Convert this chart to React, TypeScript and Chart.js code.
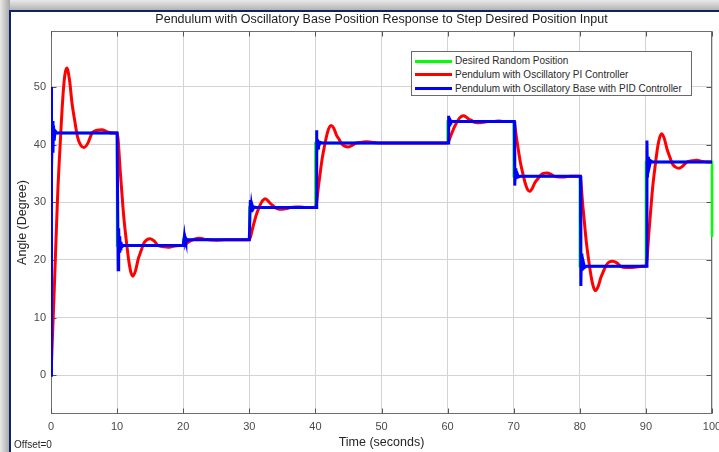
import React, { useEffect, useRef } from "react";
import { Chart, registerables } from "chart.js";

Chart.register(...registerables);

// ---------- text ----------
const chartTitle =
  "Pendulum with Oscillatory Base Position Response to Step Desired Position Input";
const xAxisTitle = "Time (seconds)";
const yAxisTitle = "Angle (Degree)";
const offsetNote = "Offset=0";
const seriesNames = [
  "Desired Random Position",
  "Pendulum with Oscillatory PI Controller",
  "Pendulum with Oscillatory Base with PID Controller",
];
const seriesColors = ["#00ff00", "#ff0000", "#0000ff"];

// ---------- axes ----------
const xTicks = [0, 10, 20, 30, 40, 50, 60, 70, 80, 90, 100];
const yTicks = [0, 10, 20, 30, 40, 50];
const xRange = [0, 100];
const yRange = [-6.7, 59.7];

// ---------- desired (step) ----------
const desiredTimes = [0, 10, 20, 30, 40, 60, 70, 80, 90, 100, 100];
const desiredAngles = [42, 22.5, 23.5, 29.1, 40.3, 44.0, 34.5, 18.9, 37.0, 37.0, 24.0];

// ---------- PI controller response ----------
const piTimes = [
  0, 0.5, 1, 1.4, 1.8, 2.1, 2.4, 2.8, 3.2, 3.6, 4, 4.5, 5, 5.6, 6.2, 7, 7.7, 8.5, 9.5,
  10, 10.5, 11, 11.4, 11.8, 12.1, 12.4, 12.8, 13.2, 13.6, 14, 14.5, 15, 15.6, 16.2, 17, 17.7, 18.5, 19.5,
  20, 20.5, 21, 21.4, 21.8, 22.1, 22.4, 22.8, 23.2, 23.6, 24, 24.5, 25, 25.6, 26.2, 27, 27.7, 28.5, 29.5,
  30, 30.5, 31, 31.4, 31.8, 32.1, 32.4, 32.8, 33.2, 33.6, 34, 34.5, 35, 35.6, 36.2, 37, 37.7, 38.5, 39.5,
  40, 40.5, 41, 41.4, 41.8, 42.1, 42.4, 42.8, 43.2, 43.6, 44, 44.5, 45, 45.6, 46.2, 47, 47.7, 48.5, 49.5, 55,
  60, 60.5, 61, 61.4, 61.8, 62.1, 62.4, 62.8, 63.2, 63.6, 64, 64.5, 65, 65.6, 66.2, 67, 67.7, 68.5, 69.5,
  70, 70.5, 71, 71.4, 71.8, 72.1, 72.4, 72.8, 73.2, 73.6, 74, 74.5, 75, 75.6, 76.2, 77, 77.7, 78.5, 79.5,
  80, 80.5, 81, 81.4, 81.8, 82.1, 82.4, 82.8, 83.2, 83.6, 84, 84.5, 85, 85.6, 86.2, 87, 87.7, 88.5, 89.5,
  90, 90.5, 91, 91.4, 91.8, 92.1, 92.4, 92.8, 93.2, 93.6, 94, 94.5, 95, 95.6, 96.2, 97, 97.7, 98.5, 99.5, 100,
];
const piAngles = [
  0, 15.1, 31.1, 40.3, 48.3, 52.1, 53.3, 51.2, 47.0, 44.1, 41.4, 39.9, 39.5, 40.3, 42.0, 42.5, 42.6, 42.2, 42.0,
  42.0, 35.0, 27.6, 23.3, 19.6, 17.8, 17.2, 18.2, 20.2, 21.5, 22.8, 23.5, 23.7, 23.3, 22.5, 22.3, 22.2, 22.4, 22.5,
  22.5, 22.86, 23.24, 23.46, 23.65, 23.74, 23.77, 23.72, 23.62, 23.55, 23.49, 23.45, 23.44, 23.46, 23.5, 23.51, 23.52, 23.51, 23.5,
  23.5, 25.5, 27.6, 28.9, 29.9, 30.4, 30.6, 30.3, 29.8, 29.4, 29.0, 28.8, 28.8, 28.9, 29.1, 29.2, 29.2, 29.1, 29.1,
  29.1, 33.1, 37.4, 39.9, 42.0, 43.0, 43.3, 42.8, 41.6, 40.9, 40.1, 39.7, 39.6, 39.9, 40.3, 40.4, 40.5, 40.4, 40.3, 40.3,
  40.3, 41.6, 43.0, 43.9, 44.6, 44.9, 45.0, 44.8, 44.4, 44.2, 43.9, 43.8, 43.8, 43.9, 44.0, 44.0, 44.1, 44.0, 44.0,
  44.0, 40.6, 37.0, 34.9, 33.1, 32.2, 31.9, 32.4, 33.4, 34.0, 34.6, 35.0, 35.1, 34.9, 34.5, 34.4, 34.4, 34.5, 34.5,
  34.5, 28.9, 23.0, 19.5, 16.6, 15.2, 14.7, 15.5, 17.0, 18.1, 19.1, 19.7, 19.8, 19.5, 18.9, 18.7, 18.7, 18.8, 18.9,
  18.9, 25.4, 32.3, 36.3, 39.7, 41.3, 41.9, 41.0, 39.2, 37.9, 36.7, 36.1, 35.9, 36.3, 37.0, 37.2, 37.3, 37.1, 37.0, 37.0,
];

// ---------- PID controller response ----------
const pidTimes = [
  0, 0.02, 0.06, 0.14, 0.22, 0.3, 0.38, 0.48, 0.62, 0.9,
  10, 10.1, 10.16, 10.24, 10.32, 10.4, 10.48, 10.58, 10.72, 11,
  20, 20.1, 20.16, 20.24, 20.32, 20.4, 20.48, 20.58, 20.72, 21,
  30, 30.1, 30.16, 30.24, 30.32, 30.4, 30.48, 30.58, 30.72, 31,
  40, 40.1, 40.16, 40.24, 40.32, 40.4, 40.48, 40.58, 40.72, 41,
  60, 60.1, 60.16, 60.24, 60.32, 60.4, 60.48, 60.58, 60.72, 61,
  70, 70.1, 70.16, 70.24, 70.32, 70.4, 70.48, 70.58, 70.72, 71,
  80, 80.1, 80.16, 80.24, 80.32, 80.4, 80.48, 80.58, 80.72, 81,
  90, 90.1, 90.16, 90.24, 90.32, 90.4, 90.48, 90.58, 90.72, 91,
  100,
];
const pidAngles = [
  0, 25.0, 50.0, 35.7, 44.1, 38.6, 43.3, 40.7, 42.4, 42.0,
  42.0, 42.0, 18.3, 25.5, 21.5, 24.1, 21.9, 23.1, 22.3, 22.5,
  22.5, 22.5, 24.0, 23.1, 23.7, 23.3, 23.6, 23.4, 23.5, 23.5,
  23.5, 23.5, 30.4, 28.3, 29.4, 28.7, 29.3, 28.9, 29.2, 29.1,
  29.1, 29.1, 42.5, 38.6, 40.9, 39.4, 40.6, 40.0, 40.4, 40.3,
  40.3, 40.3, 45.0, 43.4, 44.2, 43.7, 44.1, 43.9, 44.0, 44.0,
  44.0, 44.0, 32.9, 35.9, 34.0, 35.3, 34.2, 34.8, 34.4, 34.5,
  34.5, 34.5, 15.5, 21.1, 18.1, 20.1, 18.4, 19.4, 18.7, 18.9,
  18.9, 18.9, 40.7, 34.3, 37.9, 35.6, 37.5, 36.5, 37.2, 37.0,
  37.0,
];

const FONT = '"Liberation Sans", Arial, Helvetica, sans-serif';
const W = 719;
const H = 452;

const pairs = (xs: number[], ys: number[]) => xs.map((x, i) => ({ x, y: ys[i] }));

const framePlugin = {
  id: "matlabFrame",
  beforeDatasetsDraw(chart: any) {
    const { ctx, chartArea, scales } = chart;
    const { left, right, top, bottom } = chartArea;
    const xs = scales.x;
    const ys = scales.y;
    ctx.save();
    ctx.strokeStyle = "#6f6f6f";
    ctx.lineWidth = 1;
    const L = Math.round(left) + 0.5;
    const R = Math.round(right) - 0.5;
    const T = Math.round(top) + 0.5;
    const B = Math.round(bottom) - 0.5;
    ctx.strokeRect(L, T, R - L, B - T);
    ctx.strokeStyle = "#555555";
    ctx.beginPath();
    const tl = 5;
    xTicks.forEach((v) => {
      const px = Math.round(xs.getPixelForValue(v)) + 0.5;
      ctx.moveTo(px, B);
      ctx.lineTo(px, B - tl);
      ctx.moveTo(px, T);
      ctx.lineTo(px, T + tl);
    });
    yTicks.forEach((v) => {
      const py = Math.round(ys.getPixelForValue(v)) + 0.5;
      ctx.moveTo(L, py);
      ctx.lineTo(L + tl, py);
      ctx.moveTo(R, py);
      ctx.lineTo(R - tl, py);
    });
    ctx.stroke();
    ctx.restore();
  },
  afterDraw(chart: any) {
    const { ctx, chartArea } = chart;
    ctx.save();
    ctx.font = `12.5px ${FONT}`;
    ctx.fillStyle = "#1a1a1a";
    ctx.textAlign = "center";
    ctx.textBaseline = "middle";
    ctx.fillText(chartTitle, (chartArea.left + chartArea.right) / 2, 20);
    ctx.restore();
  },
};

export default function App() {
  const canvasRef = useRef<HTMLCanvasElement | null>(null);

  useEffect(() => {
    const canvas = canvasRef.current;
    if (!canvas) return;
    const chart = new Chart(canvas, {
      type: "line",
      data: {
        datasets: [
          {
            label: seriesNames[2],
            data: pairs(pidTimes, pidAngles),
            borderColor: seriesColors[2],
            backgroundColor: seriesColors[2],
            borderWidth: 3,
            pointRadius: 0,
            tension: 0,
            order: 0,
          },
          {
            label: seriesNames[1],
            data: pairs(piTimes, piAngles),
            borderColor: seriesColors[1],
            backgroundColor: seriesColors[1],
            borderWidth: 3,
            pointRadius: 0,
            cubicInterpolationMode: "monotone",
            order: 1,
          },
          {
            label: seriesNames[0],
            data: pairs(desiredTimes, desiredAngles),
            borderColor: seriesColors[0],
            backgroundColor: seriesColors[0],
            borderWidth: 2.5,
            pointRadius: 0,
            stepped: "before",
            clip: 4,
            order: 2,
          },
        ],
      },
      options: {
        animation: false,
        responsive: false,
        maintainAspectRatio: false,
        events: [],
        layout: { padding: { left: 0, right: 7, top: 31, bottom: 0 } },
        plugins: {
          legend: { display: false },
          title: { display: false },
          tooltip: { enabled: false },
        },
        scales: {
          x: {
            type: "linear",
            min: xRange[0],
            max: xRange[1],
            afterBuildTicks: (s: any) => {
              s.ticks = xTicks.map((value) => ({ value }));
            },
            afterFit: (s: any) => {
              s.height = 38;
              s.paddingLeft = 0;
              s.paddingRight = 0;
            },
            grid: { color: "#d3d3d3", lineWidth: 1, drawTicks: false },
            border: { display: false },
            ticks: {
              padding: 6,
              maxRotation: 0,
              autoSkip: false,
              color: "#4a4a4a",
              font: { family: FONT, size: 11 },
            },
            title: {
              display: true,
              text: xAxisTitle,
              color: "#262626",
              font: { family: FONT, size: 12.5 },
              padding: { top: 0, bottom: 2 },
            },
          },
          y: {
            type: "linear",
            min: yRange[0],
            max: yRange[1],
            afterBuildTicks: (s: any) => {
              s.ticks = yTicks.map((value) => ({ value }));
            },
            afterFit: (s: any) => {
              s.width = 51;
              s.paddingTop = 0;
              s.paddingBottom = 0;
            },
            grid: { color: "#d3d3d3", lineWidth: 1, drawTicks: false },
            border: { display: false },
            ticks: {
              padding: 5,
              color: "#4a4a4a",
              font: { family: FONT, size: 11 },
            },
            title: {
              display: true,
              text: yAxisTitle,
              color: "#262626",
              font: { family: FONT, size: 12.5 },
              padding: { top: 15.5, bottom: 0 },
            },
          },
        },
      },
      plugins: [framePlugin],
    } as any);
    return () => chart.destroy();
  }, []);

  const legendRows = [0, 1, 2];

  return (
    <div
      style={{
        position: "fixed",
        left: 0,
        top: 0,
        width: W,
        height: H,
        overflow: "hidden",
        background: "#c4c4c4",
      }}
    >
      <div
        style={{
          position: "absolute",
          left: 0,
          top: 0,
          width: W,
          height: 12,
          background: "linear-gradient(to bottom, #e9e9e9, #a9a9a9)",
        }}
      />
      <div
        style={{
          position: "absolute",
          left: 0,
          top: 0,
          width: 10,
          height: H,
          background: "linear-gradient(to right, #e9e9e9, #a4a4a4)",
        }}
      />
      <div
        style={{
          position: "absolute",
          left: 9,
          top: 10,
          width: W,
          height: H,
          background: "#ffffff",
          borderLeft: "2px solid #0e2466",
          borderTop: "2px solid #0e2466",
        }}
      />
      <canvas
        ref={canvasRef}
        width={W}
        height={H}
        style={{ position: "absolute", left: 0, top: 0, width: W, height: H }}
      />
      <div
        style={{
          position: "absolute",
          left: 411,
          top: 51,
          width: 281,
          height: 45,
          boxSizing: "border-box",
          background: "#ffffff",
          border: "1px solid #6a6a6a",
        }}
      >
        {legendRows.map((i) => (
          <div key={i}>
            <div
              style={{
                position: "absolute",
                left: 3,
                top: 7.5 + i * 13.8,
                width: 37,
                height: 3,
                background: seriesColors[i],
              }}
            />
            <div
              style={{
                position: "absolute",
                left: 43,
                top: 2 + i * 13.8,
                height: 14,
                lineHeight: "14px",
                fontFamily: FONT,
                fontSize: 10,
                color: "#2a2a2a",
                whiteSpace: "nowrap",
              }}
            >
              {seriesNames[i]}
            </div>
          </div>
        ))}
      </div>
      <div
        style={{
          position: "absolute",
          left: 14,
          top: 438,
          lineHeight: "14px",
          fontFamily: FONT,
          fontSize: 10,
          color: "#2a2a2a",
          whiteSpace: "nowrap",
        }}
      >
        {offsetNote}
      </div>
    </div>
  );
}
